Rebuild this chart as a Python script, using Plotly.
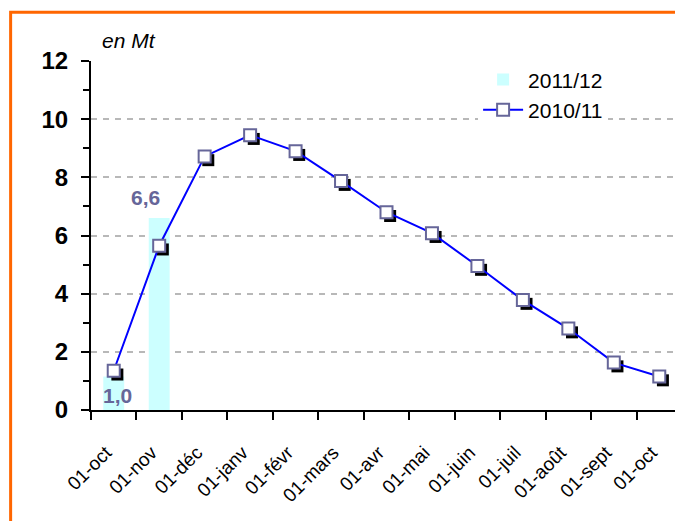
import plotly.graph_objects as go

# ---- data ----
months = ["01-oct", "01-nov", "01-déc", "01-janv", "01-févr", "01-mars", "01-avr",
          "01-mai", "01-juin", "01-juil", "01-août", "01-sept", "01-oct"]
series_2010_11 = [1.35, 5.65, 8.72, 9.45, 8.9, 7.87, 6.8, 6.08, 4.95, 3.78, 2.8, 1.63, 1.15]
series_2011_12 = [1.15, 6.6]
labels_2011_12 = ["1,0", "6,6"]
y_ticks = [0, 2, 4, 6, 8, 10, 12]

FONT = "Liberation Sans, Arial, sans-serif"
xpos = list(range(len(months)))

# shadow offset (in data units) for the Excel-like marker shadow
dx, dy = 0.08, 0.13
# small nudge of the rotated labels so that their ends sit like Excel's
label_nudge = -0.17

fig = go.Figure()
fig.add_trace(go.Bar(
    x=xpos[:len(series_2011_12)], y=series_2011_12, width=0.46,
    marker=dict(color="#CCFFFF", line=dict(width=0)),
    name="2011/12"))
fig.add_trace(go.Scatter(
    x=[v + dx for v in xpos], y=[v - dy for v in series_2010_11],
    mode="markers", marker=dict(symbol="square", size=12, color="black"),
    showlegend=False, hoverinfo="skip"))
fig.add_trace(go.Scatter(
    x=xpos, y=series_2010_11, mode="lines+markers", name="2010/11",
    line=dict(color="#0000FF", width=2),
    marker=dict(symbol="square", size=12, color="white",
                line=dict(color="#666699", width=2))))

shifts = [(4, -19), (-14, 21)]
for i, (val, txt) in enumerate(zip(series_2011_12, labels_2011_12)):
    fig.add_annotation(x=xpos[i], y=val, text=txt, showarrow=False,
                       xshift=shifts[i][0], yshift=shifts[i][1],
                       font=dict(family=FONT, size=21, color="#666699", weight="bold"))

fig.add_annotation(xref="paper", yref="paper", x=0.016, y=1.06, xanchor="left",
                   yanchor="middle", text="<i>en Mt</i>", showarrow=False,
                   font=dict(family=FONT, size=21, color="black"))

# orange frame
fig.add_shape(type="rect", xref="paper", yref="paper",
              x0=-0.136, y0=-0.5, x1=1.1, y1=1.14,
              line=dict(color="#FF6600", width=3), layer="below")

fig.update_layout(
    width=683, height=521,
    margin=dict(l=83, r=9, t=53, b=119, autoexpand=False),
    paper_bgcolor="white", plot_bgcolor="white",
    bargap=0.5,
    showlegend=True,
    legend=dict(x=0.655, y=1.005, xanchor="left", yanchor="top",
                bgcolor="white", font=dict(family=FONT, size=21, color="black"),
                tracegroupgap=0, itemwidth=40),
    xaxis=dict(range=[-0.5, 12.5], tickvals=[v + label_nudge for v in xpos],
               ticktext=months,
               tickangle=-45, ticks="", showgrid=False, zeroline=False,
               showline=True, linecolor="black", linewidth=2, automargin=False,
               tickfont=dict(family=FONT, size=19, color="black"),
               ticklabelstandoff=22,
               minor=dict(tick0=-0.5, dtick=1, ticks="outside", ticklen=8,
                          tickwidth=2, tickcolor="black", showgrid=False)),
    yaxis=dict(range=[0, 12], tickvals=y_ticks, ticks="outside", ticklen=8,
               tickwidth=2, tickcolor="black", showline=True, linecolor="black",
               linewidth=2, zeroline=False, showgrid=True, gridcolor="#B8B8B8",
               gridwidth=2, griddash="6px,6px", automargin=False,
               tickfont=dict(family=FONT, size=24, color="black", weight="bold"),
               ticklabelstandoff=8,
               minor=dict(dtick=1, ticks="outside", ticklen=6, tickwidth=2,
                          tickcolor="black", showgrid=False)),
)

fig.write_html("out.html")
